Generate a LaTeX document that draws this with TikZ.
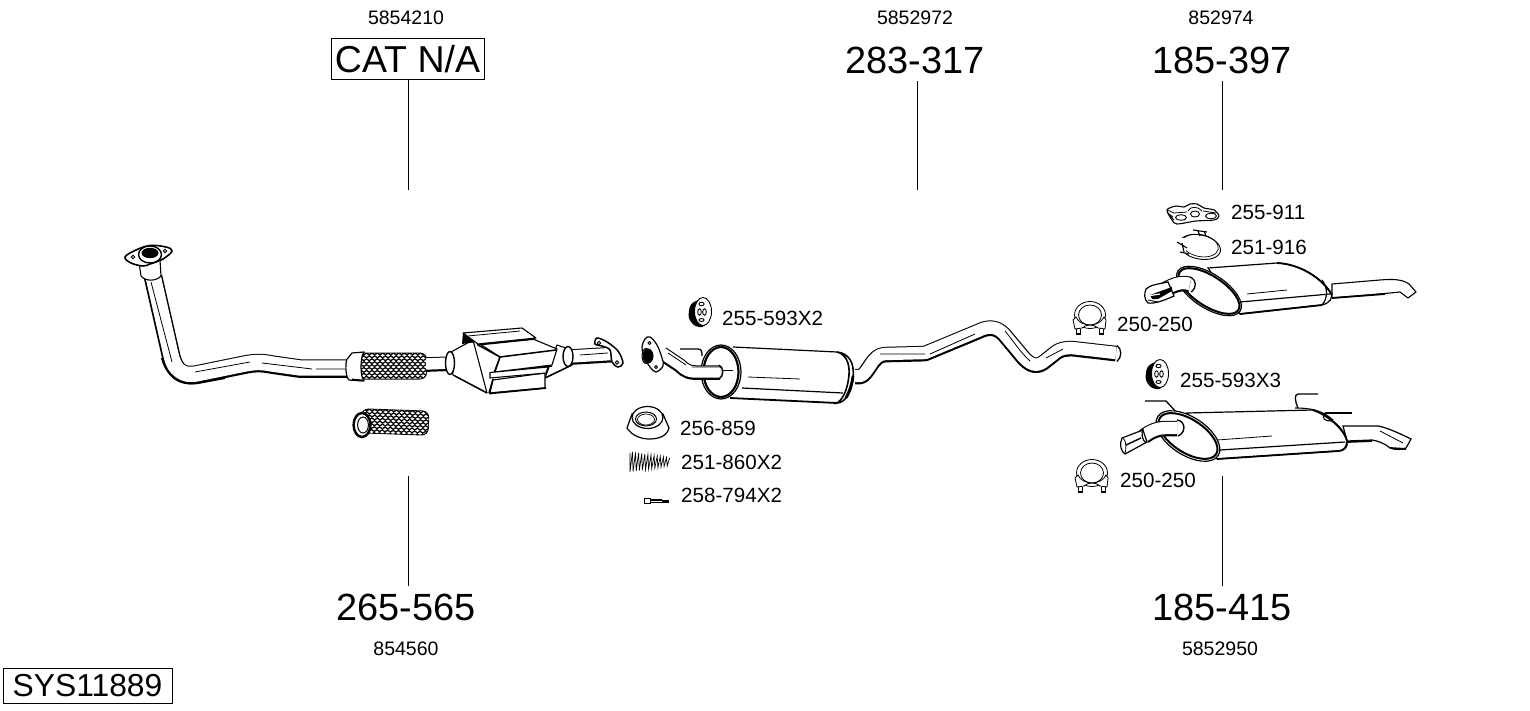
\documentclass[tikz,border=0pt]{standalone}
\usepackage{fontspec}
\setmainfont{Liberation Sans}
\newcommand{\fsz}[1]{\fontsize{#1}{#1}\selectfont}
\newcommand{\tube}[2]{%
  \draw[line width=#1pt+0.6pt,line join=round,yshift=-0.6pt] #2;
  \draw[white,line width=#1pt-2.6pt,line join=round] #2;}
\newcommand{\meshfill}[6]{% cx cy halfw halfh radius rot
  \begin{scope}[rotate around={#6:(#1,#2)}]
  \fill[black,rounded corners=#5pt] (#1-#3,#2-#4) rectangle (#1+#3,#2+#4);
  \begin{scope}
  \clip[rounded corners=#5pt] (#1-#3+0.8,#2-#4+0.8) rectangle (#1+#3-0.8,#2+#4-0.8);
  \pgfmathtruncatemacro{\nx}{2*#3/5.4+2}
  \pgfmathtruncatemacro{\ny}{2*#4/2.9+1}
  \foreach \i in {0,...,\nx}{\foreach \j in {0,...,\ny}{
    \pgfmathsetmacro{\px}{#1-#3+\i*5.4+mod(\j,2)*2.7}
    \pgfmathsetmacro{\py}{#2-#4+\j*2.9}
    \fill[white] (\px-2.2,\py) -- (\px,\py-1.4) -- (\px+2.2,\py) -- (\px,\py+1.4) -- cycle;
  }}
  \end{scope}
  \end{scope}}
\newcommand{\hangerpart}[2]{%
  \begin{scope}[shift={(#1,#2)}]
  \fill[black,rounded corners=4pt] (690,304) -- (702,298) -- (706,327) -- (695,327) -- (688,318) -- cycle;
  \filldraw[fill=white,line width=0.9pt] (703,311.5) ellipse [x radius=8.5,y radius=14];
  \draw[line width=0.9pt] (701.5,304) ellipse [x radius=2.6,y radius=1.7];
  \draw[line width=0.9pt] (699.5,312) ellipse [x radius=1.8,y radius=3.2];
  \draw[line width=0.9pt] (704.5,312) ellipse [x radius=1.8,y radius=3.2];
  \draw[line width=0.9pt] (701.5,320) ellipse [x radius=2.6,y radius=1.5];
  \end{scope}}
\newcommand{\clampring}[2]{%
  \begin{scope}[shift={(#1,#2)}]
  \filldraw[fill=white,line width=0.8pt] (1090,315) ellipse [x radius=15.5,y radius=13.5];
  \draw[line width=0.8pt] (1090,315) ellipse [x radius=11.5,y radius=10];
  \filldraw[fill=white,line width=0.8pt] (1076,317) -- (1073,320) -- (1075,329) -- (1082,328) .. controls (1086,324) and (1094,324) .. (1098,328) -- (1105,329) -- (1106,320) -- (1104,317) .. controls (1102,322) and (1096,325) .. (1090,325) .. controls (1084,325) and (1078,322) .. (1076,317) -- cycle;
  \draw[line width=0.8pt] (1076,329) -- (1076,333) (1080,328.5) -- (1080,333) (1099,328.5) -- (1099,333) (1103,329) -- (1103,333);
  \draw[line width=1.5pt] (1075.5,334) -- (1080.5,334) (1098.5,334) -- (1103.5,334);
  \end{scope}}
\tikzset{
  big/.style={inner sep=7pt,font=\fsz{37.9}},
  small/.style={inner sep=0pt,font=\fsz{19.5}},
  part/.style={inner sep=0pt,anchor=west,font=\fsz{20.6}},
  leader/.style={line width=1pt},
  boxed/.style={draw,line width=1pt,inner sep=0pt,text depth=0pt},
  thin part/.style={line width=0.8pt},
  body/.style={line width=1.1pt,line join=round,fill=white},
}
\begin{document}
\begin{tikzpicture}[x=1pt,y=-1pt]
\useasboundingbox (0,0) rectangle (1530,711);
\fill[white] (0,0) rectangle (1530,711);

% ---------- labels
\node[small] (t1) at (406,17.5) {5854210};
\node[small] (t2) at (915,17.5) {5852972};
\node[small] (t3) at (1221,17.5) {852974};
\node[small] (b1) at (406,649) {854560};
\node[small] (b2) at (1220,649) {5852950};
\node[boxed,font=\fsz{37.5},minimum width=153pt,minimum height=41pt] (cat) at (407.5,59) {CAT N/A};
\node[big] (n283) at (915,60) {283-317};
\node[big] (n185a) at (1222,60) {185-397};
\node[big] (n265) at (406,607) {265-565};
\node[big] (n185b) at (1222,607) {185-415};
\node[boxed,font=\fsz{31.8},minimum width=169pt,minimum height=35pt] (sys) at (87.5,685.5) {SYS11889};
\coordinate (e1) at (408,190);
\coordinate (e2) at (917,190);
\coordinate (e3) at (1222,190);
\coordinate (e4) at (408,476);
\coordinate (e5) at (1222,476);
\coordinate (s2) at (917,81);
\coordinate (s3) at (1222,81);
\coordinate (s4) at (408,586);
\coordinate (s5) at (1222,586);
\draw[leader] (cat.south -| e1) -- (e1);
\draw[leader] (s2) -- (e2);
\draw[leader] (s3) -- (e3);
\draw[leader] (s4) -- (e4);
\draw[leader] (s5) -- (e5);
\node[part] (p1) at (722,318) {255-593X2};
\node[part] (p2) at (680,428) {256-859};
\node[part] (p3) at (681,462) {251-860X2};
\node[part] (p4) at (681,495) {258-794X2};
\node[part] (p5) at (1117,324) {250-250};
\node[part] (p6) at (1231,212) {255-911};
\node[part] (p7) at (1231,247) {251-916};
\node[part] (p8) at (1180,380) {255-593X3};
\node[part] (p9) at (1120,480) {250-250};

% ---------- front pipe
\tube{18}{(153,276) -- (171,355) .. controls (175,372) and (183,376) .. (196,374) -- (245,364) .. controls (255,362) and (262,362) .. (272,364) -- (300,368) -- (355,368)}
\draw[line width=2pt] (162,358) .. controls (166,375) and (180,386) .. (198,383) -- (225,378);
\draw[thin part] (151,282) -- (172,362);
\draw[thin part] (195,372) -- (250,362) (262,363) -- (312,369) (316,369) -- (345,369);
% collar + flange
\filldraw[body] (139,262) -- (141,276) .. controls (146,282) and (157,281) .. (161,276) -- (160,260) -- cycle;
\draw[line width=1.6pt,fill=white] plot[smooth cycle,tension=0.6] coordinates {(125,257) (136,250) (150,245.5) (166,247) (172,251) (163,259) (150,264) (143,266) (131,263)};
\filldraw[fill=white,line width=1.4pt] (150,254.5) ellipse [x radius=11.5,y radius=8.5];
\fill (150,253) ellipse [x radius=8.5,y radius=5.2];
\draw[fill=white,line width=0.9pt] (133,257) circle (1.7) (165,251) circle (1.7);

% flex section
\meshfill{390}{366}{37}{13.5}{7}{0}
\filldraw[body,line width=1.2pt] (348,358) .. controls (345,359) and (345,377) .. (349,380) -- (364,381) .. controls (360,377) and (360,357) .. (364,352) -- (352,353) -- cycle;
\draw[line width=1.8pt] (352,379.5) -- (362,380.5);

% short pipe + cat
\tube{14}{(426,364) -- (452,363)}
\filldraw[body] (451,352) -- (473,340) -- (487,393) -- (453,375) -- cycle;
\filldraw[body,line width=1.4pt] (450,363) ellipse [x radius=4.5,y radius=11.5];
\draw[line width=1.4pt] (487,393) -- (455,376);
\filldraw[body] (545,378) -- (557,345) -- (566,348) -- (572,365) -- cycle;
\draw[line width=1.4pt] (545,378) -- (572,365);
% top shield
\fill (463,333) -- (462,344) -- (477,342) -- cycle;
\filldraw[body] (463,333) -- (522,328) -- (536,338) -- (478,344) -- cycle;
\draw[thin part] (468,336) -- (520,331);
% upper box
\filldraw[body] (480,344) -- (533,339) -- (557,349) -- (552,365) -- (495,372) -- (500,357) -- cycle;
\draw[line width=1.5pt] (500,357) -- (556,350) (500,357) -- (494,373) -- (552,366) (478,345) -- (500,357);
\draw[line width=1.5pt] (477,345) -- (535,339);
% lower box
\filldraw[body] (493,380) -- (545,373) -- (545,388) -- (490,393) -- cycle;
\draw[line width=1.8pt] (489,393.5) -- (546,388);
\filldraw[body,line width=1.1pt] (490,372.5) -- (548,367) -- (546,373) -- (490,378) -- cycle;
\draw[line width=1.5pt] (493,379) -- (489,393);
% rear pipe + flange
\tube{15}{(570,356.5) -- (612,354)}
\draw[thin part] (580,355) -- (608,353);
\filldraw[body,line width=1.4pt] (568,356.5) ellipse [x radius=5,y radius=10];
\draw[line width=1.5pt,fill=white] plot[smooth cycle,tension=0.55] coordinates {(597,338) (607,342) (618,351) (623,363) (618,367) (612,362) (610,350) (602,346) (595,344)};
\draw[fill=white,line width=0.9pt] (599,343) circle (1.8) (617,362.5) circle (1.8);

% loose flex
\meshfill{395}{422}{34}{12.5}{7}{-2}
\filldraw[fill=white,line width=2.4pt] (362,425) ellipse [x radius=8.4,y radius=12];
\filldraw[fill=white,line width=1pt] (363,425) ellipse [x radius=5.4,y radius=8];

% ---------- centre section
\tube{15}{(855,376) -- (860,376) .. controls (868,375) and (872,354) .. (885,354) -- (925,353) -- (978,331) .. controls (988,326) and (996,326) .. (1004,334) -- (1024,358) .. controls (1032,366) and (1038,367) .. (1046,360) -- (1056,352) .. controls (1060,349) and (1065,348) .. (1072,348) -- (1116,353)}
\draw[thin part] (880,354) -- (925,354) (930,354) -- (975,334) (1005,331) .. controls (1015,343) and (1020,352) .. (1030,361) (1046,358) -- (1063,349);
\draw[line width=1.3pt] (1117,345.5) .. controls (1122,349) and (1122,357) .. (1117,361.5);

\draw[line width=1.3pt] (680,349) -- (698,349) .. controls (702,349) and (702,352) .. (702,356);
\fill[white] (733,347) -- (837,352) -- (845,400) -- (835,403) -- (730,398) -- cycle;
\draw[line width=1.2pt] (733,347) -- (837,352);
\draw[line width=1.8pt] (730,398) -- (837,403);
\draw[thin part] (748,377) -- (800,379);
\draw[line width=1.2pt] (742,388) -- (843,393);
\filldraw[fill=white,line width=1.6pt] (837,352) .. controls (848,353) and (855,362) .. (853,378) .. controls (852,392) and (845,403) .. (837,403) .. controls (845,398) and (848,385) .. (849,375) .. controls (850,362) and (845,354) .. (837,352) -- cycle;
\draw[line width=2.8pt] (846,398) .. controls (850,390) and (852,384) .. (853,376);
% front end of silencer
\filldraw[fill=white,line width=1.2pt] (721,372) ellipse [x radius=20,y radius=27];
\draw[line width=2.2pt] (721,372) ellipse [x radius=17.5,y radius=25];
\tube{14}{(662,353) -- (680,365) .. controls (686,371) and (690,372) .. (696,372) -- (720,372)}
\draw[thin part] (668,353) -- (686,365) (692,367) -- (722,367);
\draw[line width=1.4pt] (719,365) .. controls (724,368) and (724,376) .. (719,379);
\draw[thin part] (723,370) -- (733,370);
% flange
\draw[line width=1.2pt,fill=white] plot[smooth cycle,tension=0.6] coordinates {(650,337) (657,345) (662,358) (663,366) (656,372) (650,367) (644,357) (642,347) (645,339)};
\fill (648,356) ellipse [x radius=5.5,y radius=7.5];
\draw[line width=1pt] (646,356) ellipse [x radius=4,y radius=7.5];
\draw[fill=white,thin part] (649.5,343) circle (1.5) (656,367) circle (1.5);

\hangerpart{0}{0}
\hangerpart{457}{62}

% gasket
\filldraw[fill=white,line width=1.2pt] (632,414) -- (627,428) .. controls (632,436) and (642,439) .. (649,439) .. controls (659,439) and (667,436) .. (669,428) -- (663,414) -- cycle;
\filldraw[fill=white,line width=1.2pt] (647.5,417.5) ellipse [x radius=15.5,y radius=11];
\draw[line width=1pt] (646,419) ellipse [x radius=10.5,y radius=7];
\draw[line width=0.7pt] (646,419.5) ellipse [x radius=8.5,y radius=5.5];
% spring
\draw[line width=0.7pt] (630,453)
  \foreach \k [evaluate=\k as \xx using 630+\k*3.1, evaluate=\k as \am using 10-\k*0.5] in {0,...,12}{
    -- (\xx,462+\am) -- (\xx+2.4,462-\am)};
% bolt
\filldraw[fill=white,line width=0.8pt] (644,498.5) rectangle (650,503);
\draw[line width=1.2pt] (650,500) -- (662,500) (650,502.5) -- (662,502.5);
\fill (662,500) rectangle (669,502.5);

% clamps
\clampring{0}{0}
\clampring{2}{158}

% ---------- upper rear silencer
\filldraw[body] (1332,284) -- (1380,280) .. controls (1392,279) and (1402,279) .. (1409,284) -- (1416,292) -- (1408,298) -- (1400,292) .. controls (1390,293) and (1370,295) .. (1332,298) -- cycle;
\draw[line width=1.8pt] (1332,298) -- (1385,294);
\filldraw[fill=white,line width=1.2pt] (1208,268) -- (1277,263) .. controls (1300,264) and (1322,278) .. (1331,293) .. controls (1333,298) and (1330,303) .. (1322,305) -- (1240,314) -- cycle;
\draw[line width=1.8pt] (1240,314) -- (1322,305);
\draw[line width=1.8pt] (1277,263) .. controls (1300,264) and (1322,278) .. (1332,295);
\draw[line width=1.2pt] (1240,302) -- (1330,294);
\draw[thin part] (1247,294) -- (1287,290);
\draw[line width=1.2pt] (1322,280) .. controls (1328,288) and (1328,298) .. (1322,305);
\begin{scope}[rotate around={-33:(1209,291)}]
\filldraw[fill=white,line width=1.2pt] (1209,291) ellipse [x radius=37,y radius=17];
\draw[line width=2pt] (1209,291) ellipse [x radius=35,y radius=15];
\end{scope}
\tube{15}{(1190,284) .. controls (1180,281) and (1172,285) .. (1160,292)}
\draw[line width=1.3pt] (1190,277) .. controls (1197,280) and (1197,288) .. (1191,292);
\filldraw[fill=white,line width=1.2pt] (1146,289) .. controls (1150,285) and (1158,284) .. (1168,282) -- (1174,296) .. controls (1165,300) and (1155,304) .. (1148,303) .. controls (1144,300) and (1144,293) .. (1146,289) -- cycle;
\fill (1150,295) -- (1172,287) -- (1172,291) -- (1158,299) -- (1152,299) -- cycle;
\draw[white,line width=1.2pt] (1147,296) -- (1160,294);
\draw[thin part] (1148,300) -- (1158,302);

% plate 255-911
\draw[line width=1.1pt,fill=white] plot[smooth cycle,tension=0.5] coordinates {(1167,210) (1176,206) (1184,207) (1190,204) (1197,204) (1204,208) (1214,210) (1219,216) (1214,220) (1196,221) (1177,224) (1172,220)};
\draw[thin part] (1167,210) -- (1174,213) (1168,213) -- (1173,217) (1170,216) -- (1174,220) (1174,213) -- (1187,212) (1203,211) -- (1216,213);
\draw[line width=0.9pt] (1181,217.5) ellipse [x radius=5.5,y radius=2.8] (1195,214) ellipse [x radius=4.5,y radius=3] (1211,216) ellipse [x radius=5.5,y radius=2.8];
\draw[thin part] (1188,211) .. controls (1190,206) and (1198,206) .. (1202,211);

% clamp 251-916
\begin{scope}[rotate around={-12:(1200,246)}]
\draw[line width=0.9pt] (1200,247) ellipse [x radius=21,y radius=12];
\draw[line width=0.7pt] (1200,245.5) ellipse [x radius=18.5,y radius=11];
\end{scope}
\fill[white] (1176,238) rectangle (1186,255);
\draw[line width=1.1pt] (1177,242) -- (1187,248) (1180,252) -- (1189,254) (1182,243) -- (1184,252) (1193,230) -- (1207,232) (1198,231) -- (1200,236) (1204,231) -- (1206,236);

% ---------- lower rear silencer
\draw[line width=1.3pt] (1145,401) -- (1166,401) -- (1178,414);
\draw[line width=1.3pt] (1318,394) -- (1298,394) .. controls (1294,394) and (1295,402) .. (1298,408);
\filldraw[fill=white,line width=1.2pt] (1343,426) -- (1378,426) .. controls (1384,427) and (1395,431) .. (1411,439) -- (1406,448) .. controls (1400,450) and (1396,450) .. (1390,448) .. controls (1384,443) and (1378,441) .. (1372,440) -- (1347,441) -- cycle;
\draw[line width=1.8pt] (1372,441) -- (1347,442) (1390,448) -- (1406,449);
\draw[thin part] (1380,431) -- (1403,443);
\filldraw[fill=white,line width=1.2pt] (1187,413) -- (1313,410) .. controls (1330,416) and (1345,432) .. (1347,441) .. controls (1348,447) and (1345,451) .. (1338,451) -- (1217,459) -- cycle;
\draw[line width=1.8pt] (1217,459) -- (1338,451);
\draw[line width=1.8pt] (1313,410) .. controls (1330,416) and (1345,430) .. (1347,441) .. controls (1347,447) and (1344,451) .. (1338,451);
\draw[line width=1.2pt] (1220,450) -- (1345,442);
\draw[thin part] (1217,440) -- (1272,436);
\draw[line width=1.1pt] (1325,413) -- (1352,413);
\draw[line width=1.1pt] (1325,413) .. controls (1321,419) and (1325,421) .. (1331,421);
\draw[line width=1.1pt] (1295,408) .. controls (1310,408) and (1322,410) .. (1333,420);
\begin{scope}[rotate around={-33:(1188,436)}]
\filldraw[fill=white,line width=1.2pt] (1188,436) ellipse [x radius=36,y radius=19];
\draw[line width=2pt] (1188,436) ellipse [x radius=33.5,y radius=16.5];
\end{scope}
\tube{15}{(1177,428) -- (1165,428) .. controls (1158,428) and (1150,431) .. (1144,436)}
\draw[line width=1.4pt] (1177,420) .. controls (1186,421) and (1186,433) .. (1178,436);
\filldraw[fill=white,line width=1.2pt] (1143,430) -- (1122,438) .. controls (1119,444) and (1121,452) .. (1125,454) -- (1147,442) -- cycle;
\draw[line width=1.4pt] (1126,445) -- (1141,438);
\draw[thin part] (1123,438) .. controls (1127,442) and (1126,448) .. (1125,454);
\draw[line width=1.2pt] (1143,429) .. controls (1141,433) and (1142,440) .. (1146,443);
\end{tikzpicture}
\end{document}
